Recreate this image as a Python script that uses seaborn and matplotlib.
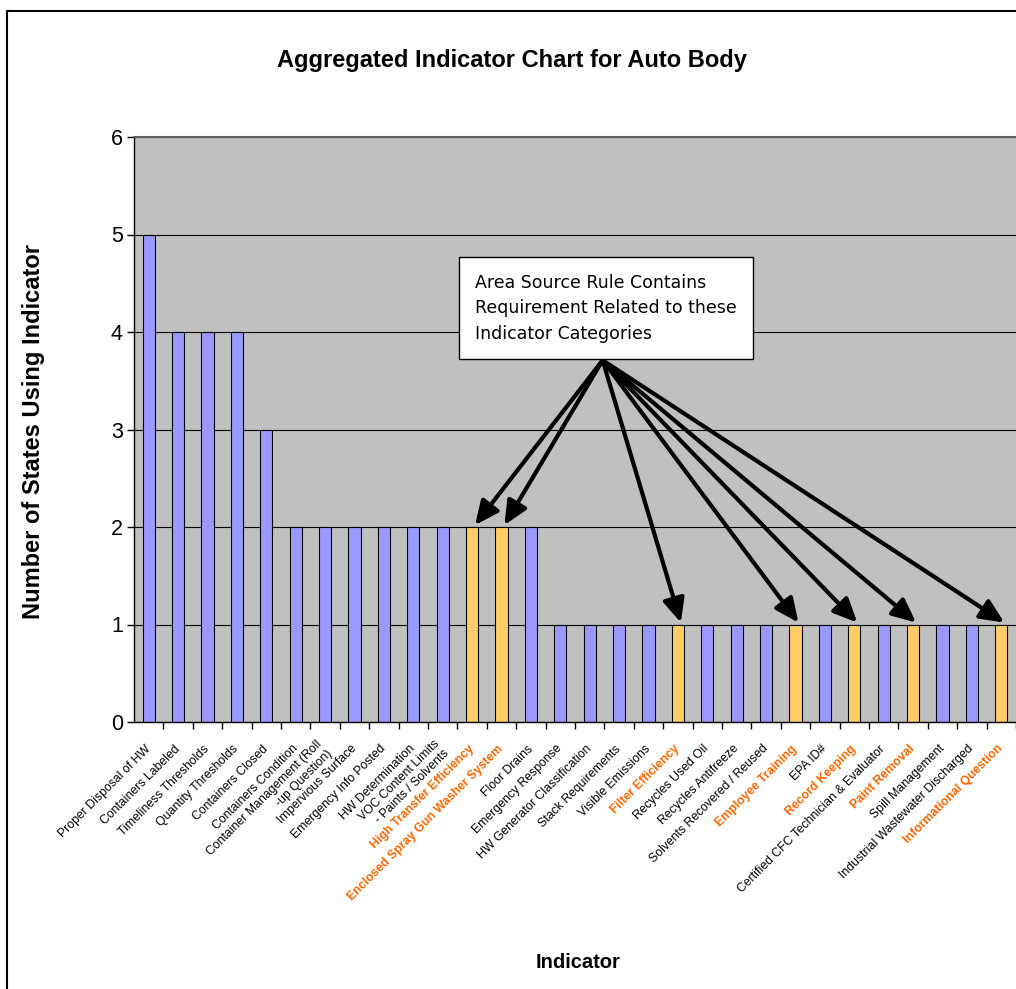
import matplotlib
matplotlib.use("Agg")
import matplotlib.pyplot as plt
from matplotlib.lines import Line2D
import seaborn as sns
import pandas as pd

# Data

indicators = [
    "Proper Disposal of HW", "Containers Labeled", "Timeliness Thresholds",
    "Quantity Thresholds", "Containers Closed", "Containers Condition",
    "Container Management (Roll\n-up Question)", "Impervious Surface",
    "Emergency Info Posted", "HW Determination",
    "VOC Content Limits\n - Paints / Solvents", "High Transfer Efficiency",
    "Enclosed Spray Gun Washer System", "Floor Drains", "Emergency Response",
    "HW Generator Classification", "Stack Requirements", "Visible Emissions",
    "Filter Efficiency", "Recycles Used Oil", "Recycles Antifreeze",
    "Solvents Recovered / Reused", "Employee Training", "EPA ID#",
    "Record Keeping", "Certified CFC Technician & Evaluator", "Paint Removal",
    "Spill Management", "Industrial Wastewater Discharged",
    "Informational Question",
]
states = [5, 4, 4, 4, 3, 2, 2, 2, 2, 2, 2, 2, 2, 2, 1,
          1, 1, 1, 1, 1, 1, 1, 1, 1, 1, 1, 1, 1, 1, 1]
area_source = [
    "High Transfer Efficiency", "Enclosed Spray Gun Washer System",
    "Filter Efficiency", "Employee Training", "Record Keeping",
    "Paint Removal", "Informational Question",
]

df = pd.DataFrame({"indicator": indicators, "states": states})
df["group"] = ["area" if n in area_source else "other" for n in indicators]

sns.set_theme(style="white")
plt.rcParams["font.family"] = ["Liberation Sans", "DejaVu Sans"]
plt.rcParams["text.color"] = "black"
plt.rcParams["axes.labelcolor"] = "black"
plt.rcParams["xtick.color"] = "black"
plt.rcParams["ytick.color"] = "black"

fig = plt.figure(figsize=(10.16, 9.89), dpi=100)
ax = fig.add_axes([134 / 1016, 1 - 722 / 989, 882 / 1016, 585 / 989])
ax.set_facecolor("#C0C0C0")

sns.barplot(data=df, x="indicator", y="states", hue="group",
            palette={"other": "#9999FF", "area": "#FFCC66"}, saturation=1,
            dodge=False, width=0.42, edgecolor="black", linewidth=0.8,
            errorbar=None, legend=False, ax=ax)

ax.set_ylim(0, 6)
ax.set_xlim(-0.5, len(indicators) - 0.5)
ax.set_yticks(range(7))
ax.yaxis.grid(True, color="black", lw=0.8)
ax.set_axisbelow(True)

for side in ["left", "bottom"]:
    ax.spines[side].set_color("black")
    ax.spines[side].set_linewidth(1)
ax.spines["top"].set_color("#606060")
ax.spines["top"].set_linewidth(1.5)
ax.spines["right"].set_visible(False)

ax.tick_params(axis="y", left=True, length=5, width=1, color="black",
               direction="out", pad=3, labelsize=15.5, labelcolor="black")
ax.set_xticks(range(len(indicators)))
ax.set_xticklabels(indicators)
ax.set_xticks([i + 0.5 for i in range(len(indicators))], minor=True)
ax.tick_params(axis="x", which="major", length=0, pad=18, labelsize=8.8)
ax.tick_params(axis="x", which="minor", bottom=True, length=5, width=1,
               color="black", direction="out")

for lab, name in zip(ax.get_xticklabels(), indicators):
    lab.set_rotation(45)
    lab.set_ha("right")
    lab.set_va("center")
    lab.set_rotation_mode("anchor")
    lab.set_multialignment("right")
    if name in area_source:
        lab.set_color("#FF6600")
        lab.set_fontweight("bold")
    else:
        lab.set_color("black")

ax.set_xlabel("Indicator", fontsize=14.5, fontweight="bold")
ax.xaxis.set_label_coords(0.503, -0.395)
ax.set_ylabel("Number of States Using Indicator", fontsize=17,
              fontweight="bold")
ax.yaxis.set_label_coords(-0.101, 0.496)

fig.text(512 / 1016, 1 - 61 / 989, "Aggregated Indicator Chart for Auto Body",
         ha="center", va="center", fontsize=17, fontweight="bold")

# Callout box and arrows

ax.text(11.1, 4.60,
        "Area Source Rule Contains\nRequirement Related to these\nIndicator Categories",
        ha="left", va="top", fontsize=12.5, family="DejaVu Sans", linespacing=1.55,
        bbox=dict(boxstyle="square,pad=0.95", fc="white", ec="black", lw=1),
        zorder=5)

origin = (15.44, 3.71)
for i, (name, v) in enumerate(zip(indicators, states)):
    if name in area_source:
        ax.annotate("", xy=(i + 0.1, v + 0.02), xytext=origin,
                    arrowprops=dict(arrowstyle="-|>,head_length=1.2,head_width=0.55",
                                    lw=3, color="black", shrinkA=0, shrinkB=0),
                    zorder=4)

# Outer chart frame
fig.add_artist(Line2D([7 / 1016, 7 / 1016], [0, 1 - 11 / 989],
                      transform=fig.transFigure, color="black", lw=1.5))
fig.add_artist(Line2D([7 / 1016, 1], [1 - 11 / 989, 1 - 11 / 989],
                      transform=fig.transFigure, color="black", lw=1.5))

fig.savefig("out.png", dpi=100)
